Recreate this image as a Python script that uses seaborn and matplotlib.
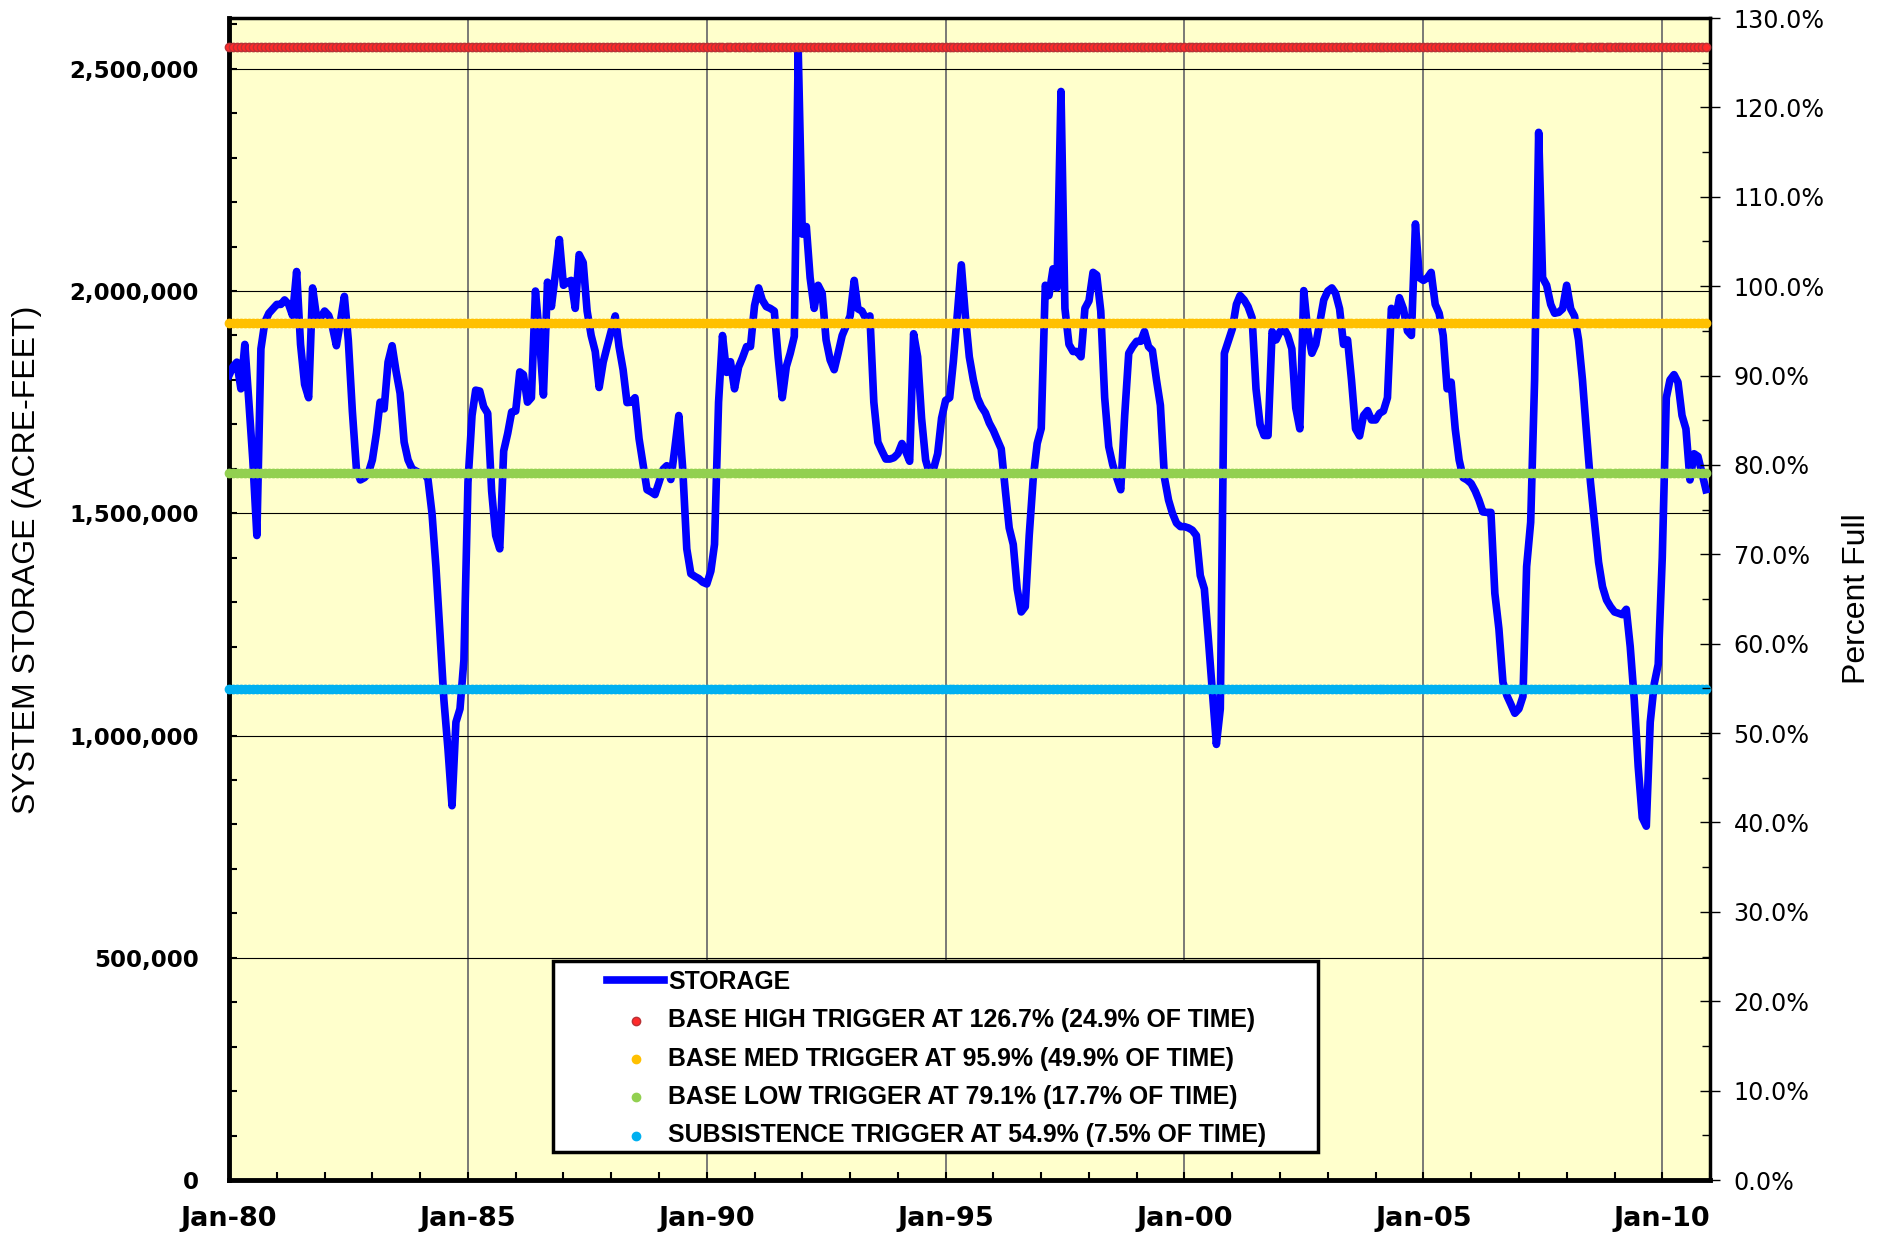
import matplotlib
matplotlib.use("Agg")
import matplotlib.pyplot as plt
import matplotlib.dates as mdates
from matplotlib.ticker import MultipleLocator, FuncFormatter, PercentFormatter
from matplotlib.patches import Rectangle
import pandas as pd
import seaborn as sns

CAPACITY = 2011000  # acre-feet at 100% full

# monthly system storage, millions of acre-feet
storage_1980s = [
    1.81, 1.83, 1.84, 1.78, 1.88, 1.75, 1.62, 1.45, 1.87, 1.93, 1.95, 1.96,
    1.97, 1.97, 1.98, 1.97, 1.945, 2.044, 1.88, 1.79, 1.76, 2.007, 1.94, 1.94,
    1.955, 1.945, 1.92, 1.877, 1.93, 1.988, 1.89, 1.73, 1.60, 1.575, 1.58, 1.59,
    1.62, 1.68, 1.75, 1.735, 1.84, 1.877, 1.82, 1.77, 1.66, 1.62, 1.60, 1.595,
    1.59, 1.59, 1.577, 1.50, 1.38, 1.23, 1.08, 0.97, 0.842, 1.03, 1.06, 1.17,
    1.57, 1.72, 1.777, 1.775, 1.74, 1.725, 1.55, 1.45, 1.42, 1.64, 1.68, 1.728,
    1.73, 1.818, 1.812, 1.75, 1.76, 2.00, 1.90, 1.766, 2.02, 1.965, 2.04, 2.116,
    2.013, 2.02, 2.024, 1.961, 2.082, 2.064, 1.955, 1.90, 1.864, 1.783, 1.84, 1.875,
    1.91, 1.944, 1.875, 1.823, 1.749, 1.75, 1.76, 1.668, 1.61, 1.553, 1.548, 1.542,
    1.57, 1.599, 1.607, 1.576, 1.645, 1.72, 1.60, 1.42, 1.364, 1.358, 1.353, 1.345,
]
storage_1990s = [
    1.341, 1.37, 1.43, 1.75, 1.90, 1.817, 1.841, 1.78, 1.829, 1.85, 1.875, 1.875,
    1.967, 2.007, 1.98, 1.965, 1.961, 1.955, 1.85, 1.76, 1.83, 1.86, 1.898, 2.541,
    2.128, 2.145, 2.03, 1.961, 2.013, 1.995, 1.89, 1.845, 1.823, 1.86, 1.90, 1.921,
    1.944, 2.024, 1.96, 1.955, 1.938, 1.944, 1.75, 1.66, 1.64, 1.622, 1.622, 1.625,
    1.634, 1.657, 1.64, 1.617, 1.904, 1.852, 1.714, 1.62, 1.588, 1.60, 1.634, 1.714,
    1.754, 1.76, 1.841, 1.95, 2.059, 1.944, 1.852, 1.80, 1.76, 1.74, 1.726, 1.703,
    1.686, 1.665, 1.645, 1.553, 1.467, 1.43, 1.33, 1.278, 1.29, 1.45, 1.58, 1.657,
    1.691, 2.013, 1.99, 2.05, 2.007, 2.449, 1.961, 1.88, 1.864, 1.864, 1.852, 1.961,
    1.978, 2.042, 2.036, 1.955, 1.76, 1.65, 1.61, 1.58, 1.553, 1.72, 1.86, 1.875,
    1.887, 1.887, 1.909, 1.875, 1.866, 1.80, 1.743, 1.58, 1.53, 1.50, 1.478, 1.47,
]
storage_2000s = [
    1.47, 1.467, 1.462, 1.45, 1.36, 1.33, 1.22, 1.10, 0.98, 1.06, 1.86, 1.887,
    1.915, 1.97, 1.99, 1.98, 1.965, 1.94, 1.78, 1.70, 1.675, 1.675, 1.909, 1.89,
    1.909, 1.915, 1.90, 1.87, 1.737, 1.69, 2.001, 1.909, 1.86, 1.88, 1.93, 1.98,
    2.00, 2.007, 1.995, 1.96, 1.88, 1.89, 1.80, 1.69, 1.674, 1.72, 1.731, 1.71,
    1.71, 1.725, 1.73, 1.76, 1.961, 1.935, 1.985, 1.96, 1.91, 1.90, 2.151, 2.03,
    2.024, 2.03, 2.042, 1.97, 1.95, 1.90, 1.78, 1.795, 1.69, 1.62, 1.58, 1.575,
    1.567, 1.55, 1.53, 1.503, 1.502, 1.502, 1.32, 1.24, 1.12, 1.09, 1.07, 1.05,
    1.06, 1.088, 1.38, 1.48, 1.80, 2.357, 2.03, 2.013, 1.97, 1.95, 1.952, 1.96,
    2.013, 1.96, 1.944, 1.89, 1.80, 1.68, 1.57, 1.48, 1.39, 1.335, 1.305, 1.29,
    1.278, 1.275, 1.272, 1.284, 1.20, 1.08, 0.93, 0.815, 0.796, 1.03, 1.117, 1.16,
]
storage_2010 = [1.40, 1.76, 1.80, 1.812, 1.795, 1.72, 1.69, 1.575, 1.634, 1.628, 1.59, 1.553]

# trigger levels, fraction of capacity
trigger_names = [
    "BASE HIGH TRIGGER AT 126.7% (24.9% OF TIME)",
    "BASE MED TRIGGER AT 95.9% (49.9% OF TIME)",
    "BASE LOW TRIGGER AT 79.1% (17.7% OF TIME)",
    "SUBSISTENCE TRIGGER AT 54.9% (7.5% OF TIME)",
]
trigger_levels = [1.267, 0.959, 0.791, 0.549]
trigger_colors = ["#FF2A2A", "#FFC000", "#92D050", "#00B0F0"]
trigger_edges = ["#B83236", "#FFC000", "#92D050", "#00B0F0"]

storage = [v * 1e6 for v in storage_1980s + storage_1990s + storage_2000s + storage_2010]
dates = pd.date_range("1980-01-01", periods=len(storage), freq="MS")
df = pd.DataFrame({"date": dates, "storage": storage})

plt.rcParams["font.family"] = ["Liberation Sans", "DejaVu Sans"]

fig = plt.figure(figsize=(18.91, 12.35), dpi=100)
ax = fig.add_axes([229 / 1891, 1 - 1180 / 1235, 1481 / 1891, 1162 / 1235])
ax.set_facecolor("#FFFFCC")

sns.lineplot(data=df, x="date", y="storage", ax=ax, color="#0000FF", linewidth=5.5,
             label="STORAGE", zorder=3)
for name, lvl, col, edge in zip(trigger_names, trigger_levels, trigger_colors, trigger_edges):
    sns.scatterplot(x=df["date"], y=[lvl * CAPACITY] * len(df), ax=ax, color=col,
                    edgecolor=edge, linewidth=1.0, s=36, label=name, zorder=4, clip_on=False)

ax.set_xlim(pd.Timestamp("1980-01-01"), pd.Timestamp("2011-01-01"))
ax.set_ylim(0, 1.3 * CAPACITY)
ax.xaxis.set_major_locator(mdates.YearLocator(5, month=1, day=1))
ax.xaxis.set_minor_locator(mdates.YearLocator(1, month=1, day=1))
ax.xaxis.set_major_formatter(mdates.DateFormatter("%b-%y"))
ax.yaxis.set_major_locator(MultipleLocator(500000))
ax.yaxis.set_minor_locator(MultipleLocator(100000))
ax.yaxis.set_major_formatter(FuncFormatter(lambda v, p: f"{v:,.0f}"))

ax.grid(axis="y", which="major", color="black", linewidth=0.8)
ax.grid(axis="x", which="major", color="#6F6F6F", linewidth=1.3)
ax.set_axisbelow(True)

ax.tick_params(axis="y", which="both", direction="in", length=6, width=1.5, pad=22, labelsize=16.5)
ax.tick_params(axis="x", which="both", direction="in", length=6, width=1.5, pad=19, labelsize=19.5)
for lab in ax.get_yticklabels() + ax.get_xticklabels():
    lab.set_fontfamily("DejaVu Sans")
    lab.set_fontweight("bold")

for side in ["left", "bottom"]:
    ax.spines[side].set_linewidth(3.5)
for side in ["top", "right"]:
    ax.spines[side].set_linewidth(2.5)

ax.set_xlabel("")
ax.set_ylabel("SYSTEM STORAGE (ACRE-FEET)", fontsize=23)
ax.yaxis.set_label_coords(-0.1262, 0.534)

ax2 = ax.twinx()
ax2.set_ylim(0, 1.3)
ax2.yaxis.set_major_locator(MultipleLocator(0.1))
ax2.yaxis.set_minor_locator(MultipleLocator(0.05))
ax2.yaxis.set_major_formatter(PercentFormatter(xmax=1, decimals=1))
ax2.tick_params(axis="y", which="major", direction="inout", length=14, width=1, pad=10, labelsize=17.2)
ax2.tick_params(axis="y", which="minor", direction="in", length=6, width=1)
for lab in ax2.get_yticklabels():
    lab.set_fontfamily("DejaVu Sans")
ax2.set_ylabel("Percent Full", fontsize=23)
ax2.yaxis.set_label_coords(1.089, 0.5)
for s in ax2.spines.values():
    s.set_visible(False)

# legend box
ax.add_patch(Rectangle((0.2188, 0.0241), 0.5165, 0.1644, transform=ax.transAxes,
                       facecolor="white", edgecolor="black", linewidth=2.5, zorder=5))
handles, labels = ax.get_legend_handles_labels()
leg = ax.legend(handles, labels, loc="upper left", bbox_to_anchor=(0.2552, 0.181),
                frameon=False, borderpad=0, borderaxespad=0, handlelength=2.3,
                handletextpad=0.15, labelspacing=0.58,
                prop={"family": "Liberation Sans", "weight": "bold", "size": 17.9})
leg.set_zorder(6)

fig.savefig("out.png", dpi=100)
